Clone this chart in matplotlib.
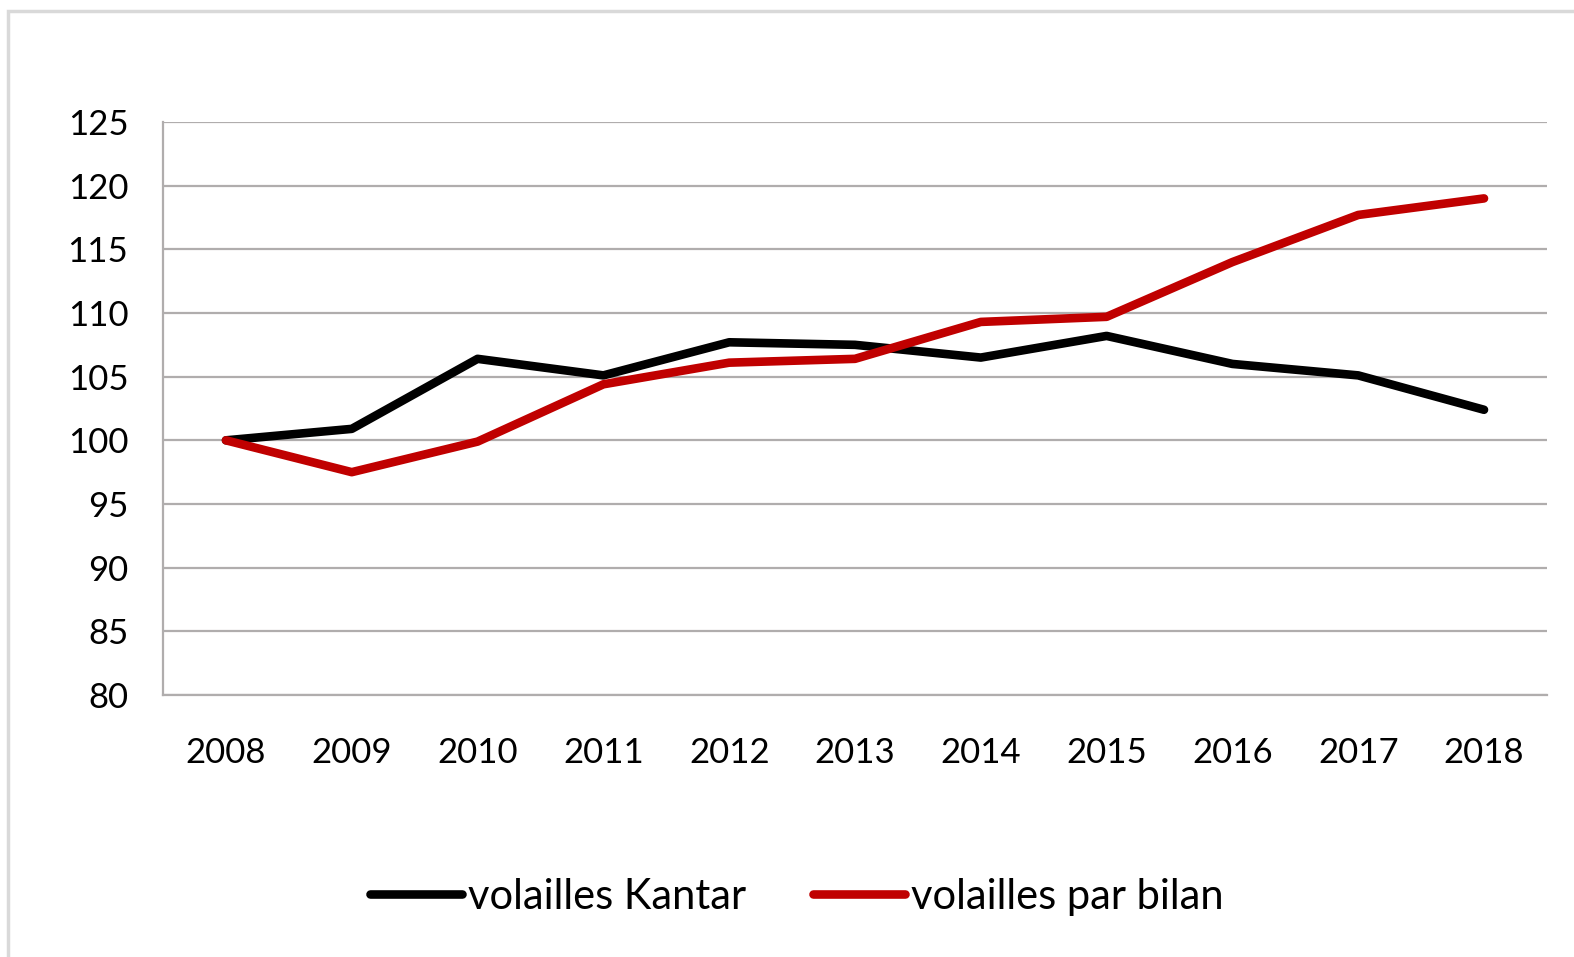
import matplotlib
matplotlib.use("Agg")
import matplotlib.pyplot as plt
from matplotlib.patches import Rectangle

years = ["2008", "2009", "2010", "2011", "2012", "2013", "2014", "2015", "2016", "2017", "2018"]
kantar = [100, 100.9, 106.4, 105.1, 107.7, 107.5, 106.5, 108.2, 106.0, 105.1, 102.4]
bilan = [100, 97.5, 99.9, 104.4, 106.1, 106.4, 109.3, 109.7, 114.0, 117.7, 119.0]
yticks = [80, 85, 90, 95, 100, 105, 110, 115, 120, 125]

plt.rcParams['font.family'] = ['Lato', 'DejaVu Sans']

fig = plt.figure(figsize=(15.74, 9.57), dpi=100)
fig.patches.append(Rectangle((8 / 1574, -0.1), 1.2, (957 - 11) / 957 + 0.1,
                             transform=fig.transFigure, fill=False,
                             edgecolor="#d9d9d9", linewidth=2.5))

ax = fig.add_axes([0.1036, 0.2738, 0.8792, 0.5987])
x = list(range(len(years)))
ax.plot(x, kantar, color="black", lw=6.2, solid_capstyle="round", label="volailles Kantar")
ax.plot(x, bilan, color="#c00000", lw=6.2, solid_capstyle="round", label="volailles par bilan")

ax.set_xlim(-0.5, len(years) - 0.5)
ax.set_ylim(80, 125)
ax.set_yticks(yticks)
ax.set_xticks(x)
ax.set_xticklabels(years)
ax.yaxis.grid(True, color="#b0adad", lw=1.6)
ax.set_axisbelow(True)
for s in ["top", "right"]:
    ax.spines[s].set_visible(False)
for s in ["left", "bottom"]:
    ax.spines[s].set_color("#b0adad")
    ax.spines[s].set_linewidth(1.6)
ax.tick_params(axis="both", length=0, labelsize=25)
ax.tick_params(axis="y", pad=25)
ax.tick_params(axis="x", pad=30)

fig.legend(loc="center", bbox_to_anchor=(797 / 1574, 1 - 897 / 957), ncol=2,
           frameon=False, fontsize=30, handlelength=2.2, handletextpad=0.15,
           columnspacing=1.6)

fig.savefig("out.png", dpi=100)
